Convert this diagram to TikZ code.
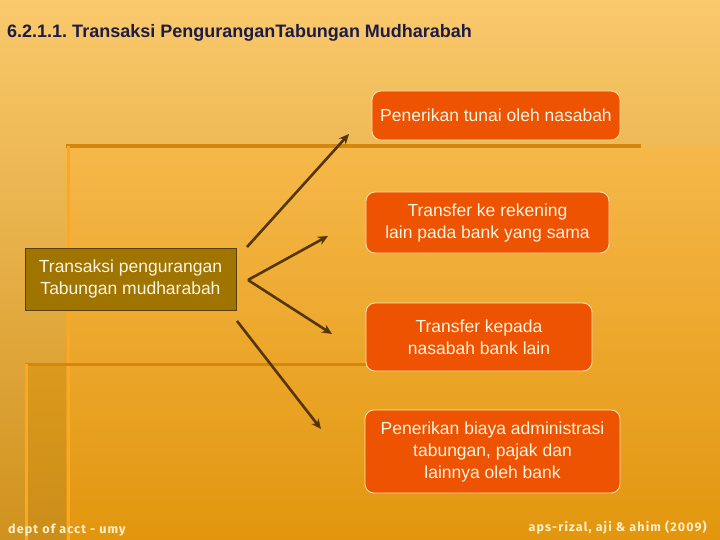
\documentclass[tikz,border=0pt]{standalone}
\usepackage{fontspec}
\setmainfont{Liberation Sans}
\newfontfamily\footfont[LetterSpace=9]{Fira Sans}
\frenchspacing
\usetikzlibrary{arrows.meta,shadings}
\definecolor{bgtop}{HTML}{FAC96C}
\definecolor{bgbot}{HTML}{D0921E}
\definecolor{intop}{HTML}{F6B84A}
\definecolor{inbot}{HTML}{E2960E}
\definecolor{boxfill}{HTML}{EE5302}
\definecolor{boxline}{HTML}{FFE6B0}
\definecolor{boxtext}{HTML}{FFF4E0}
\definecolor{srcfill}{HTML}{A07400}
\definecolor{srcline}{HTML}{5A3E00}
\definecolor{arrowc}{HTML}{553600}
\definecolor{titlec}{HTML}{1C1C44}
\definecolor{darkline}{HTML}{D4870E}
\definecolor{liteline}{HTML}{FFA722}
\definecolor{footc}{HTML}{FFF0C8}
\definecolor{stripc}{HTML}{DC9A1C}
\tikzset{
  dest/.style={draw=boxline, line width=0.8pt, fill=boxfill, rounded corners=9pt,
    text=boxtext, font=\fontsize{17.5}{22}\selectfont, align=center, inner sep=0pt},
  src/.style={draw=srcline, line width=0.8pt, fill=srcfill, text=boxtext,
    font=\fontsize{17.5}{22}\selectfont, align=center, inner sep=0pt},
  conn/.style={draw=arrowc, line width=2.6pt, -{Stealth[length=10pt,width=9pt]}},
  foot/.style={text=footc, font=\footfont\bfseries\fontsize{12.5}{15}\selectfont, anchor=base west, inner sep=0pt}
}
\begin{document}
\begin{tikzpicture}[x=1pt,y=-1pt]
\useasboundingbox (0,0) rectangle (720,540);
% background
\shade[top color=bgtop, bottom color=bgbot] (0,0) rectangle (720,540);
\shade[top color=intop, bottom color=inbot] (66,146) rectangle (720,540);
\shade[top color=stripc, bottom color=stripc!92!black] (25,363) rectangle (66,540);
\draw[darkline, line width=4pt] (66,146) -- (641,146);
\draw[liteline, line width=3pt] (68,146) -- (68,540);
\draw[darkline, line width=3pt] (25,364) -- (370,364);
\draw[liteline, line width=3pt] (26,364) -- (26,540);
% title
\node[anchor=base west, text=titlec, font=\bfseries\fontsize{18}{20}\selectfont, inner sep=0pt] (title) at (7,38)
  {6.2.1.1. Transaksi PenguranganTabungan Mudharabah};
% nodes
\node[src, minimum width=211pt, minimum height=62pt] (s) at (130.5,279) {Transaksi pengurangan\\Tabungan mudharabah};
\node[dest, minimum width=248pt, minimum height=49pt] (d1) at (496,115.5) {Penerikan tunai oleh nasabah};
\node[dest, minimum width=243pt, minimum height=61pt] (d2) at (487.5,222.5) {Transfer ke rekening\\lain pada bank yang sama};
\node[dest, minimum width=226pt, minimum height=68pt] (d3) at (479,337) {Transfer kepada\\nasabah bank lain};
\node[dest, minimum width=255pt, minimum height=83pt] (d4) at (492.5,451.5) {Penerikan biaya administrasi\\tabungan, pajak dan\\lainnya oleh bank};
% connector anchors
\coordinate (a1) at (247,247);
\coordinate (t1) at (349,134);
\coordinate (v) at (248,280);
\coordinate (t2) at (328,236);
\coordinate (t3) at (332,334);
\coordinate (a4) at (237,321);
\coordinate (t4) at (321,429);
\draw[conn] (a1) -- (t1);
\draw[conn] (v) -- (t2);
\draw[conn] (v) -- (t3);
\draw[conn] (a4) -- (t4);
% footer
\node[foot] (f1) at (8,533) {dept of acct - umy};
\node[foot, anchor=base east] (f2) at (707,531) {aps-rizal, aji \& ahim (2009)};
\end{tikzpicture}
\end{document}
